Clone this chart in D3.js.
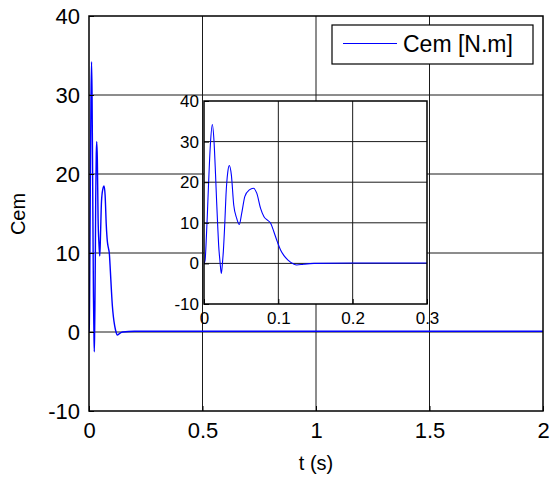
<!DOCTYPE html>
<html>
<head>
<meta charset="utf-8">
<script src="https://cdn.jsdelivr.net/npm/d3@7"></script>
<style>
  html, body { margin: 0; padding: 0; background: #fff; }
  svg { display: block; font-family: Arial, "Liberation Sans", Helvetica, sans-serif; }
</style>
</head>
<body>
<svg id="chart" width="553" height="482"></svg>
<script>
// Electromagnetic torque response Cem(t)
const timeS = [0, 0.0015, 0.0027, 0.0045, 0.006, 0.0085, 0.0112, 0.0135, 0.0155, 0.017, 0.0185, 0.0197, 0.0215, 0.0233, 0.025, 0.026, 0.028, 0.0296, 0.032, 0.034, 0.0368, 0.040, 0.044, 0.0475, 0.0507, 0.055, 0.061, 0.0664, 0.071, 0.076, 0.0807, 0.085, 0.0897, 0.094, 0.0987, 0.103, 0.1076, 0.113, 0.120, 0.1247, 0.134, 0.148, 0.2, 0.3, 0.5, 1.0, 1.5, 2.0];
const torqueNm = [0, 0.8, 4.5, 12, 19, 29, 34.2, 30, 22, 15.2, 9, 4.5, 0.5, -2.5, 0.5, 2.9, 10, 16.9, 22.5, 24.1, 21.8, 14.4, 11.1, 9.6, 12.3, 16.5, 18.1, 18.5, 17.3, 13.6, 11.5, 10.7, 9.9, 7.8, 5.3, 3.3, 1.9, 0.8, -0.1, -0.4, -0.2, 0, 0.1, 0.1, 0.1, 0.1, 0.1, 0.1];

const mainXTicks = [0, 0.5, 1, 1.5, 2];
const mainYTicks = [-10, 0, 10, 20, 30, 40];
const insetXTicks = [0, 0.1, 0.2, 0.3];
const insetYTicks = [-10, 0, 10, 20, 30, 40];
const seriesName = "Cem [N.m]";

const svg = d3.select("#chart");
const lineColor = "#0000ff";
const data = timeS.map((t, i) => ({ t, v: torqueNm[i] }));
const plainFormat = d => String(d);

function drawPanel(g, box, xDomain, yDomain, xTicks, yTicks, fontSize, lineWidth, xLabelGap, yLabelGap) {
  const x = d3.scaleLinear().domain(xDomain).range([box.left, box.right]);
  const y = d3.scaleLinear().domain(yDomain).range([box.bottom, box.top]);

  g.append("rect")
    .attr("x", box.left).attr("y", box.top)
    .attr("width", box.right - box.left).attr("height", box.bottom - box.top)
    .attr("fill", "#fff");

  // grid
  const grid = g.append("g").attr("stroke", "#1a1a1a").attr("stroke-width", 1);
  xTicks.slice(1, -1).forEach(v => {
    grid.append("line").attr("x1", x(v)).attr("x2", x(v))
      .attr("y1", box.top).attr("y2", box.bottom);
  });
  yTicks.slice(1, -1).forEach(v => {
    grid.append("line").attr("y1", y(v)).attr("y2", y(v))
      .attr("x1", box.left).attr("x2", box.right);
  });

  // curve, clipped to the plot box
  const clipId = "clip" + Math.round(box.left);
  g.append("clipPath").attr("id", clipId).append("rect")
    .attr("x", box.left).attr("y", box.top)
    .attr("width", box.right - box.left).attr("height", box.bottom - box.top);
  g.append("path")
    .datum(data)
    .attr("clip-path", `url(#${clipId})`)
    .attr("fill", "none")
    .attr("stroke", lineColor)
    .attr("stroke-width", lineWidth)
    .attr("stroke-linejoin", "round")
    .attr("d", d3.line().x(d => x(d.t)).y(d => y(d.v)).curve(d3.curveMonotoneX));

  // axes with inward ticks (labels drawn by the axis generators)
  const xAxis = g.append("g").attr("transform", `translate(0,${box.bottom})`)
    .call(d3.axisBottom(x).tickValues(xTicks).tickSize(-5).tickSizeOuter(0).tickPadding(xLabelGap).tickFormat(plainFormat));
  const yAxis = g.append("g").attr("transform", `translate(${box.left},0)`)
    .call(d3.axisLeft(y).tickValues(yTicks).tickSize(-5).tickSizeOuter(0).tickPadding(yLabelGap).tickFormat(plainFormat));
  [xAxis, yAxis].forEach(a => {
    a.select(".domain").remove();
    a.selectAll("line").attr("stroke", "#000");
    a.selectAll("text").attr("fill", "#000").attr("font-size", fontSize)
      .attr("font-family", "Arial, 'Liberation Sans', sans-serif");
  });

  // frame
  g.append("rect")
    .attr("x", box.left).attr("y", box.top)
    .attr("width", box.right - box.left).attr("height", box.bottom - box.top)
    .attr("fill", "none").attr("stroke", "#000").attr("stroke-width", 1.5);

  return { x, y };
}

// main axes
const mainBox = { left: 89, right: 543, top: 16, bottom: 411 };
const mainG = svg.append("g");
drawPanel(mainG, mainBox, [0, 2], [-10, 40], mainXTicks, mainYTicks, 22, 1.4, 11, 9);

// axis titles
svg.append("text").attr("x", 316).attr("y", 470).attr("text-anchor", "middle")
  .attr("font-size", 20).text("t (s)");
svg.append("text").attr("transform", "translate(25,214) rotate(-90)")
  .attr("text-anchor", "middle").attr("font-size", 20).text("Cem");

// legend
const lg = svg.append("g");
lg.append("rect").attr("x", 332).attr("y", 25).attr("width", 201).attr("height", 39)
  .attr("fill", "#fff").attr("stroke", "#000").attr("stroke-width", 1.2);
lg.append("line").attr("x1", 343).attr("x2", 397).attr("y1", 43.5).attr("y2", 43.5)
  .attr("stroke", lineColor).attr("stroke-width", 1);
lg.append("text").attr("x", 403).attr("y", 52).attr("font-size", 23).text(seriesName);

// zoomed inset
const insetBox = { left: 204, right: 427, top: 101, bottom: 304 };
const insetG = svg.append("g");
drawPanel(insetG, insetBox, [0, 0.3], [-10, 40], insetXTicks, insetYTicks, 17, 1.1, 8, 5);
</script>
</body>
</html>
